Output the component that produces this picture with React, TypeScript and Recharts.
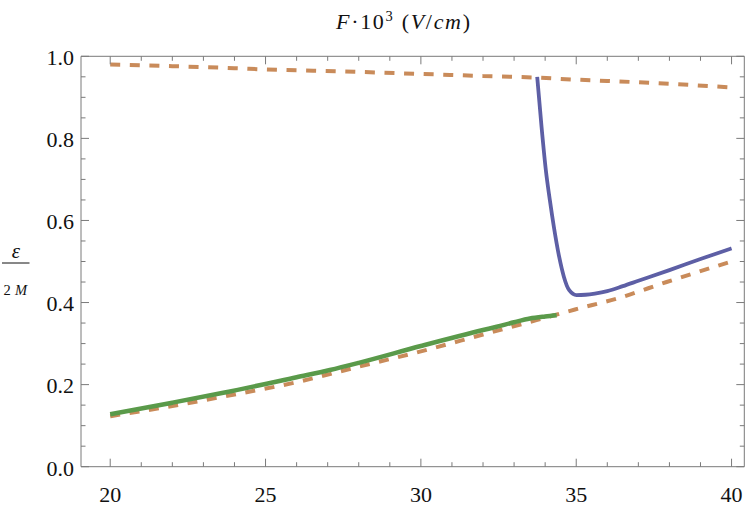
import React from "react";
import { LineChart, Line, XAxis, YAxis } from "recharts";

// ---- data ----
const upperDashedX = [20, 22, 24, 25, 26, 28, 30, 32, 33.74, 35, 36, 38, 40];
const upperDashedY = [0.98, 0.976, 0.971, 0.968, 0.966, 0.962, 0.957, 0.952, 0.948, 0.943, 0.94, 0.933, 0.924];

const lowerDashedX = [20, 22, 24, 26, 27.07, 28, 30, 32, 33.72, 34.96, 36.41, 37.91, 40];
const lowerDashedY = [0.123, 0.148, 0.176, 0.206, 0.2257, 0.2437, 0.281, 0.322, 0.357, 0.383, 0.412, 0.45, 0.5];

const greenX = [20, 22, 23.64, 26, 27.07, 28, 30, 32, 32.44, 33, 33.51, 34, 34.37];
const greenY = [0.128, 0.156, 0.18, 0.218, 0.2355, 0.253, 0.294, 0.333, 0.341, 0.352, 0.361, 0.366, 0.369];

const blueX = [33.744, 33.884, 34.023, 34.152, 34.281, 34.452, 34.602, 34.774, 35.01, 35.3, 35.6, 36.0, 36.5, 37.0, 38.0, 39.0, 40];
const blueY = [0.95, 0.828, 0.722, 0.649, 0.584, 0.511, 0.463, 0.43, 0.418, 0.419, 0.422, 0.428, 0.44, 0.453, 0.479, 0.506, 0.532];

const xTicks = [20, 21, 22, 23, 24, 25, 26, 27, 28, 29, 30, 31, 32, 33, 34, 35, 36, 37, 38, 39, 40];
const yTicks = [0, 0.05, 0.1, 0.15, 0.2, 0.25, 0.3, 0.35, 0.4, 0.45, 0.5, 0.55, 0.6, 0.65, 0.7, 0.75, 0.8, 0.85, 0.9, 0.95, 1.0];

const toPoints = (xs: number[], ys: number[]) => xs.map((x, i) => ({ x, y: ys[i] }));

const upperDashed = toPoints(upperDashedX, upperDashedY);
const lowerDashed = toPoints(lowerDashedX, lowerDashedY);
const green = toPoints(greenX, greenY);
const blue = toPoints(blueX, blueY);

const ORANGE = "#c98b5a";
const BLUE = "#5d5fa5";
const GREEN = "#5a9a4a";
const FRAME = "#7a7a7a";
const FONT = "Liberation Serif";
const fontStyleBase = { fontFamily: "'Liberation Serif', serif" };

const isMajorX = (v: number) => Math.abs(v / 5 - Math.round(v / 5)) < 1e-6;
const isMajorY = (v: number) => Math.abs(v * 5 - Math.round(v * 5)) < 1e-6;

const BottomTick = (props: any) => {
  const { x, y, payload } = props;
  const v = payload.value;
  const major = isMajorX(v);
  return (
    <g>
      <line x1={x} y1={y} x2={x} y2={y - (major ? 8 : 4.5)} stroke={FRAME} strokeWidth={1} />
      {major && (
        <text x={x} y={y + 35.3} textAnchor="middle" fontFamily={FONT} style={fontStyleBase} fontSize={22} fill="#111">
          {String(v)}
        </text>
      )}
    </g>
  );
};

const TopTick = (props: any) => {
  const { x, y, payload } = props;
  const major = isMajorX(payload.value);
  return <line x1={x} y1={y} x2={x} y2={y + (major ? 8 : 4.5)} stroke={FRAME} strokeWidth={1} />;
};

const LeftTick = (props: any) => {
  const { x, y, payload } = props;
  const v = payload.value;
  const major = isMajorY(v);
  return (
    <g>
      <line x1={x} y1={y} x2={x + (major ? 8 : 4.5)} y2={y} stroke={FRAME} strokeWidth={1} />
      {major && (
        <text x={x - 7} y={y + 8.8} textAnchor="end" fontFamily={FONT} style={fontStyleBase} fontSize={22} fill="#111">
          {v.toFixed(1)}
        </text>
      )}
    </g>
  );
};

const RightTick = (props: any) => {
  const { x, y, payload } = props;
  const major = isMajorY(payload.value);
  return <line x1={x} y1={y} x2={x - (major ? 8 : 4.5)} y2={y} stroke={FRAME} strokeWidth={1} />;
};

export default function App() {
  return (
    <div style={{ position: "absolute", left: 0, top: 0, width: 747, height: 518, background: "#fff" }}>
      <LineChart
        width={747}
        height={518}
        margin={{ top: 55.3, right: 1.7, bottom: 11.3, left: 0 }}
      >
        <XAxis
          xAxisId="bottom"
          type="number"
          dataKey="x"
          domain={[19.06, 40.41]}
          allowDataOverflow
          ticks={xTicks}
          interval={0}
          tickSize={0}
          tickMargin={0}
          tickLine={false}
          height={40}
          axisLine={{ stroke: FRAME, strokeWidth: 1 }}
          tick={BottomTick}
        />
        <XAxis
          xAxisId="top"
          orientation="top"
          type="number"
          dataKey="x"
          domain={[19.06, 40.41]}
          allowDataOverflow
          ticks={xTicks}
          interval={0}
          tickSize={0}
          tickMargin={0}
          tickLine={false}
          height={1}
          axisLine={{ stroke: FRAME, strokeWidth: 1 }}
          tick={TopTick}
        />
        <YAxis
          yAxisId="left"
          type="number"
          domain={[0, 1]}
          allowDataOverflow
          ticks={yTicks}
          interval={0}
          tickSize={0}
          tickMargin={0}
          tickLine={false}
          width={81}
          axisLine={{ stroke: FRAME, strokeWidth: 1 }}
          tick={LeftTick}
        />
        <YAxis
          yAxisId="right"
          orientation="right"
          type="number"
          domain={[0, 1]}
          allowDataOverflow
          ticks={yTicks}
          interval={0}
          tickSize={0}
          tickMargin={0}
          tickLine={false}
          width={1}
          axisLine={{ stroke: FRAME, strokeWidth: 1 }}
          tick={RightTick}
        />
        <Line
          xAxisId="bottom"
          yAxisId="left"
          data={upperDashed}
          dataKey="y"
          type="monotone"
          stroke={ORANGE}
          strokeWidth={4}
          strokeDasharray="10 9.6"
          dot={false}
          activeDot={false}
          isAnimationActive={false}
        />
        <Line
          xAxisId="bottom"
          yAxisId="left"
          data={lowerDashed}
          dataKey="y"
          type="monotone"
          stroke={ORANGE}
          strokeWidth={4}
          strokeDasharray="10 9.6"
          dot={false}
          activeDot={false}
          isAnimationActive={false}
        />
        <Line
          xAxisId="bottom"
          yAxisId="left"
          data={blue}
          dataKey="y"
          type="monotone"
          stroke={BLUE}
          strokeWidth={3.8}
          dot={false}
          activeDot={false}
          isAnimationActive={false}
        />
        <Line
          xAxisId="bottom"
          yAxisId="left"
          data={green}
          dataKey="y"
          type="monotone"
          stroke={GREEN}
          strokeWidth={4.5}
          dot={false}
          activeDot={false}
          isAnimationActive={false}
        />
      </LineChart>
      <svg
        width={747}
        height={518}
        style={{ position: "absolute", left: 0, top: 0, pointerEvents: "none" }}
      >
        <text
          x={336}
          y={29.3}
          textAnchor="start"
          style={fontStyleBase}
          fontFamily={FONT}
          fontSize={22}
          fill="#111"
          textLength={134}
          lengthAdjust="spacing"
        >
          <tspan fontStyle="italic">F</tspan>
          <tspan>·10</tspan>
          <tspan fontSize={14.5} dy={-8}>3</tspan>
          <tspan dy={8}> (</tspan>
          <tspan fontStyle="italic">V</tspan>
          <tspan>/</tspan>
          <tspan fontStyle="italic">cm</tspan>
          <tspan>)</tspan>
        </text>
        <text x={16} y={258} textAnchor="middle" style={fontStyleBase} fontFamily={FONT} fontSize={21} fontStyle="italic" fill="#111">
          ε
        </text>
        <line x1={2} y1={263} x2={29.5} y2={263} stroke="#111" strokeWidth={1} />
        <text x={3.5} y={295} textAnchor="start" style={fontStyleBase} fontFamily={FONT} fontSize={14.5} fill="#111">
          2
        </text>
        <text x={15} y={295} textAnchor="start" style={fontStyleBase} fontFamily={FONT} fontSize={14.5} fontStyle="italic" fill="#111">
          M
        </text>
      </svg>
    </div>
  );
}
